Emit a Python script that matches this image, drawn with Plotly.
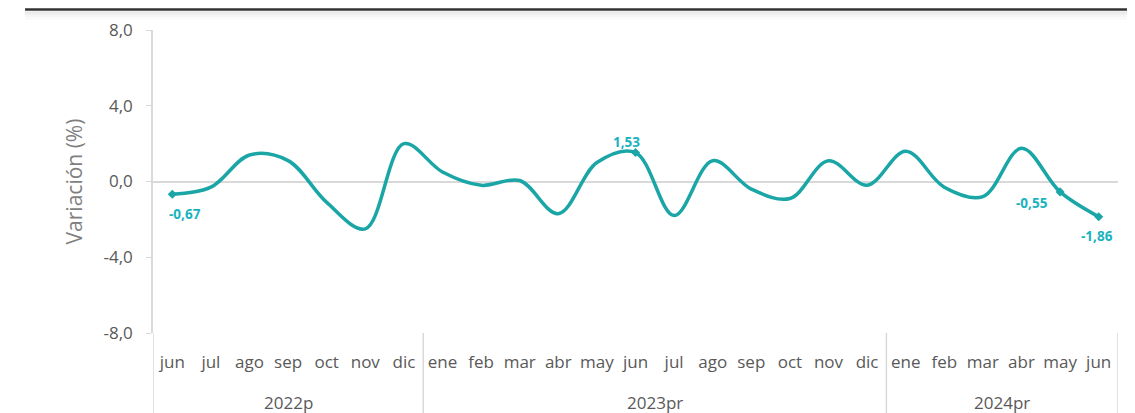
import plotly.graph_objects as go

years = ["2022p", "2023pr", "2024pr"]
year_counts = [7, 12, 6]
months = ["jun", "jul", "ago", "sep", "oct", "nov", "dic",
          "ene", "feb", "mar", "abr", "may", "jun", "jul", "ago", "sep", "oct", "nov", "dic",
          "ene", "feb", "mar", "abr", "may", "jun"]
values = [-0.67, -0.3, 1.4, 1.1, -1.1, -2.5, 2.0,
          0.5, -0.2, 0.05, -1.7, 1.0, 1.53, -1.8, 1.1, -0.4, -0.9, 1.1, -0.2,
          1.6, -0.3, -0.8, 1.75, -0.55, -1.86]
y_ticks = [-8.0, -4.0, 0.0, 4.0, 8.0]

label_idx = [0, 12, 23, 24]
label_shift = [(13, -20), (-9, 11), (-28, -11), (-2, -19)]

line_color = "#1AA5A6"
label_color = "#19B3BE"
grid_color = "#D9D9D9"
text_color = "#595959"

xs = list(range(len(months)))

def fmt(v):
    return f"{v:.2f}".replace(".", ",")

fig = go.Figure()
fig.add_trace(go.Scatter(
    x=xs, y=values, mode="lines",
    line=dict(color=line_color, width=3.5, shape="spline", smoothing=1.0),
    hoverinfo="skip", showlegend=False,
))
fig.add_trace(go.Scatter(
    x=[xs[i] for i in label_idx],
    y=[values[i] for i in label_idx],
    mode="markers",
    marker=dict(color=line_color, size=7, symbol="diamond"),
    hoverinfo="skip", showlegend=False,
))

annotations = []
for i, (dx, dy) in zip(label_idx, label_shift):
    annotations.append(dict(x=xs[i], y=values[i], xref="x", yref="y", text=fmt(values[i]),
                            showarrow=False, xshift=dx, yshift=dy,
                            font=dict(color=label_color, size=13.5, family="Open Sans",
                                      weight="bold")))

# top separator with soft shadow
shapes = [dict(type="line", xref="paper", yref="paper",
               x0=-0.1326, x1=1.02, y0=1.0677, y1=1.0677,
               line=dict(color="#333333", width=2.5))]
for k, c in enumerate(["#E6E6E6", "#EEEEEE", "#F5F5F5", "#FAFAFA"]):
    yy = 1.0677 - (3 + 2 * k) / 303
    shapes.append(dict(type="line", xref="paper", yref="paper",
                       x0=-0.1326, x1=1.02, y0=yy, y1=yy, line=dict(color=c, width=2)))

start = 0
bounds = [-0.5]
for yname, cnt in zip(years, year_counts):
    end = start + cnt
    bounds.append(end - 0.5)
    annotations.append(dict(x=(start + end - 1) / 2, xref="x", y=-0.231, yref="paper",
                            text=yname, showarrow=False, yanchor="middle",
                            font=dict(size=17, color=text_color)))
    start = end
for b in bounds:
    shapes.append(dict(type="line", xref="x", yref="paper", x0=b, x1=b, y0=0, y1=-0.3,
                       line=dict(color=grid_color, width=1.5)))

fig.update_layout(
    width=1127, height=405,
    margin=dict(l=145, r=17, t=22, b=80),
    plot_bgcolor="white", paper_bgcolor="white",
    font=dict(family="Open Sans", color=text_color),
    shapes=shapes, annotations=annotations,
)
fig.update_yaxes(
    range=[-8, 8], tickvals=y_ticks, ticktext=[f"{v:.1f}".replace(".", ",") for v in y_ticks],
    showgrid=False, zeroline=True, zerolinecolor=grid_color, zerolinewidth=2,
    showline=True, linecolor=grid_color, linewidth=1.5,
    ticks="outside", tickcolor=grid_color, ticklen=5, ticklabelstandoff=10,
    tickfont=dict(size=17, color=text_color), automargin=False,
    title=dict(text="Variación (%)", font=dict(size=21, color="#7F7F7F"), standoff=15),
)
fig.update_xaxes(
    range=[-0.5, len(months) - 0.5], tickvals=xs, ticktext=months, tickangle=0,
    showgrid=False, showline=False, ticks="", automargin=False,
    ticklabelstandoff=17,
    tickfont=dict(size=17, color=text_color),
)

fig.write_html("out.html")
